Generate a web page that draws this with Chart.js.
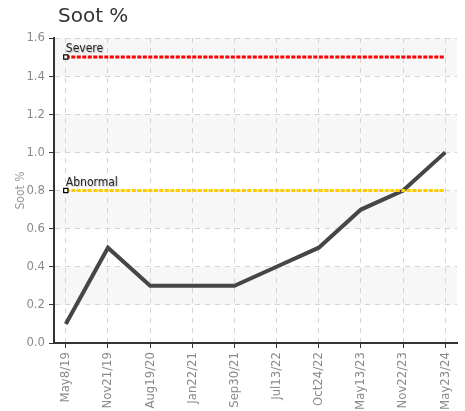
<!DOCTYPE html>
<html>
<head>
<meta charset="utf-8">
<script src="https://cdn.jsdelivr.net/npm/chart.js@4.4.1/dist/chart.umd.min.js"></script>
<style>
  html, body { margin: 0; padding: 0; background: #fff; }
  #wrap { width: 465px; height: 411px; position: relative; }
</style>
</head>
<body>
<div id="wrap"><canvas id="sootChart"></canvas></div>
<script>
// Datos del gráfico
const dates = ['May8/19', 'Nov21/19', 'Aug19/20', 'Jan22/21', 'Sep30/21', 'Jul13/22', 'Oct24/22', 'May13/23', 'Nov22/23', 'May23/24'];
const soot = [0.1, 0.5, 0.3, 0.3, 0.3, 0.4, 0.5, 0.7, 0.8, 1.0];
const severeLimit = 1.5;
const abnormalLimit = 0.8;
const yTicks = [0.0, 0.2, 0.4, 0.6, 0.8, 1.0, 1.2, 1.4, 1.6];

const condensed = '"DejaVu Sans Condensed", "DejaVu Sans", sans-serif';

// Bandas alternas de fondo
const bandsPlugin = {
    id: 'bands',
    beforeDraw(chart) {
        const { ctx, chartArea, scales } = chart;
        ctx.save();
        ctx.fillStyle = '#f7f7f7';
        for (let i = 1; i < yTicks.length - 1; i += 2) {
            const yTop = scales.y.getPixelForValue(yTicks[i + 1]);
            const yBot = scales.y.getPixelForValue(yTicks[i]);
            ctx.fillRect(chartArea.left, yTop, chartArea.right - chartArea.left, yBot - yTop);
        }
        ctx.restore();
    }
};

// Título y etiquetas de los límites
const textPlugin = {
    id: 'texts',
    afterDraw(chart) {
        const { ctx, scales } = chart;
        ctx.save();
        ctx.fillStyle = '#333';
        ctx.font = '20px "DejaVu Sans", sans-serif';
        ctx.fillText('Soot %', 58, 22);

        const x0 = scales.x.getPixelForValue(0);
        ctx.font = 'condensed 12px ' + condensed;
        ctx.shadowColor = 'rgba(0,0,0,0.25)';
        ctx.shadowOffsetX = 1;
        ctx.shadowOffsetY = 1;
        ctx.shadowBlur = 1;
        ctx.fillStyle = '#222';
        ctx.fillText('Severe', x0, scales.y.getPixelForValue(severeLimit) - 5);
        ctx.fillText('Abnormal', x0, scales.y.getPixelForValue(abnormalLimit) - 5);
        ctx.restore();
    }
};

const firstPointOnly = ctx => ctx.dataIndex === 0 ? 3 : 0;

new Chart(document.getElementById('sootChart'), {
    type: 'line',
    data: {
        datasets: [
            {
                label: 'Severe',
                data: dates.map((d, i) => ({ x: i, y: severeLimit })),
                borderColor: '#ff0000',
                borderWidth: 3,
                borderDash: [4, 1.5],
                pointStyle: 'rect',
                pointRadius: firstPointOnly,
                pointBackgroundColor: '#fff',
                pointBorderColor: '#000',
                pointBorderWidth: 1.2
            },
            {
                label: 'Abnormal',
                data: dates.map((d, i) => ({ x: i, y: abnormalLimit })),
                borderColor: '#ffcc00',
                borderWidth: 3,
                borderDash: [4, 1.5],
                pointStyle: 'rect',
                pointRadius: firstPointOnly,
                pointBackgroundColor: '#fff',
                pointBorderColor: '#000',
                pointBorderWidth: 1.2
            },
            {
                label: 'Soot %',
                data: dates.map((d, i) => ({ x: i, y: soot[i] })),
                borderColor: '#464646',
                borderWidth: 4,
                pointRadius: 0,
                tension: 0
            }
        ]
    },
    options: {
        responsive: true,
        maintainAspectRatio: false,
        animation: false,
        layout: { padding: { top: 38, right: 4, left: 0, bottom: 0 } },
        plugins: {
            legend: { display: false },
            tooltip: { enabled: false }
        },
        scales: {
            x: {
                type: 'linear',
                min: -0.28,
                max: 9.28,
                afterFit(scale) { scale.height = 68; },
                ticks: {
                    stepSize: 1,
                    includeBounds: false,
                    autoSkip: false,
                    minRotation: 90,
                    maxRotation: 90,
                    padding: 4,
                    color: '#8a8a8a',
                    font: { family: condensed, style: 'condensed', size: 13 },
                    callback: v => dates[v]
                },
                grid: {
                    color: '#d4d4d4',
                    tickColor: '#333',
                    tickLength: 5,
                    tickBorderDash: []
                },
                border: { color: '#333', width: 2, dash: [5, 5] }
            },
            y: {
                min: 0,
                max: 1.6,
                afterFit(scale) { scale.width = 54; },
                afterBuildTicks(scale) { scale.ticks = yTicks.map(v => ({ value: v })); },
                ticks: {
                    padding: 4,
                    color: '#8a8a8a',
                    font: { family: condensed, style: 'condensed', size: 13 },
                    callback: v => v.toFixed(1)
                },
                grid: {
                    color: '#d4d4d4',
                    tickColor: '#333',
                    tickLength: 5,
                    tickBorderDash: []
                },
                border: { color: '#333', width: 2, dash: [5, 5] },
                title: {
                    display: true,
                    text: 'Soot %',
                    color: '#999',
                    font: { family: condensed, style: 'condensed', size: 12 },
                    padding: { top: 14, bottom: 0 }
                }
            }
        }
    },
    plugins: [bandsPlugin, textPlugin]
});
</script>
</body>
</html>
